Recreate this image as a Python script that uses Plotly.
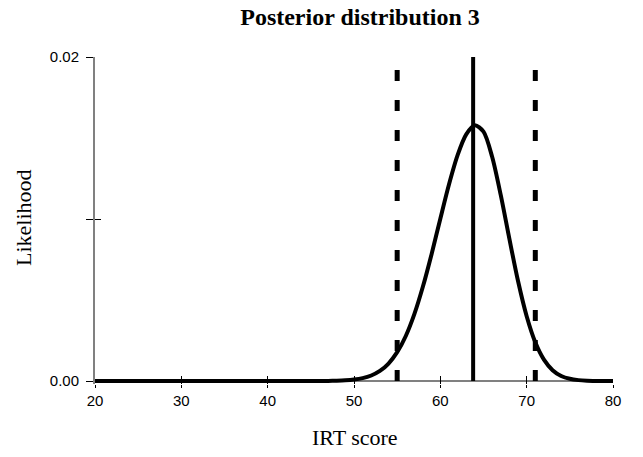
import plotly.graph_objects as go

# IRT score grid and posterior likelihood
irt_score = list(range(20, 81))
likelihood = [0.0] * 26 + [
    0.000003, 0.000007, 0.000018, 0.00004, 0.000087,      # 46-50
    0.000176, 0.00034, 0.00062, 0.00108, 0.00178,         # 51-55
    0.00278, 0.00414, 0.00586, 0.00786, 0.01002,          # 56-60
    0.01213, 0.01394, 0.01522, 0.01578, 0.01539,          # 61-65
    0.01384, 0.01147, 0.00877, 0.00617, 0.0040,           # 66-70
    0.00239, 0.00132, 0.00067, 0.00031, 0.000135,         # 71-75
    0.000054, 0.00002, 0.000007, 0.0, 0.0,                # 76-80
]

estimate = 63.8
interval = [55, 71]
y_span = [0.0, 0.02]

x_ticks = [20, 30, 40, 50, 60, 70, 80]
y_ticks = [0.0, 0.01, 0.02]
y_ticktext = ["0.00", "", "0.02"]

W, H = 643, 457
L, R, T, B = 87, 38, 49, 81
PW, PH = W - L - R, H - T - B

fig = go.Figure()

fig.add_trace(go.Scatter(
    x=irt_score, y=likelihood, mode="lines",
    line=dict(color="black", width=4, shape="spline", smoothing=0.8),
    showlegend=False, hoverinfo="skip"))

fig.add_trace(go.Scatter(
    x=[estimate, estimate], y=y_span, mode="lines",
    line=dict(color="black", width=4),
    showlegend=False, hoverinfo="skip"))

for b in interval:
    fig.add_trace(go.Scatter(
        x=[b, b], y=y_span, mode="lines",
        line=dict(color="black", width=5, dash="11px,19px"),
        showlegend=False, hoverinfo="skip"))

# empty carrier trace so the overlaid tick axes are drawn
fig.add_trace(go.Scatter(x=[irt_score[0]], y=[0.0], mode="lines", xaxis="x2", yaxis="y2",
                         showlegend=False, hoverinfo="skip", line=dict(width=0)))

serif = "Liberation Serif, Times New Roman, serif"
sans = "Liberation Sans, Arial, sans-serif"

yr = [-0.000185, 0.02]

fig.update_layout(
    width=W, height=H,
    margin=dict(l=L, r=R, t=T, b=B, autoexpand=False),
    paper_bgcolor="white", plot_bgcolor="white",
    title=dict(text="<b>Posterior distribution 3</b>", x=352/W, xref="container",
               xanchor="center", y=1.0, yanchor="top",
               font=dict(family=serif, size=24, color="black")),
    xaxis=dict(range=[20, 80], tickvals=x_ticks, ticks="outside", ticklen=3,
               tickcolor="black", tickwidth=1, showline=False, showgrid=False,
               zeroline=False, automargin=False,
               tickfont=dict(family=sans, size=15, color="black")),
    xaxis2=dict(range=[20, 80], tickvals=x_ticks, ticks="inside", ticklen=8,
                tickcolor="black", tickwidth=1, showline=False, showgrid=False,
                zeroline=False, showticklabels=False, overlaying="x", anchor="y2",
                side="bottom", automargin=False),
    yaxis=dict(range=yr, tickvals=y_ticks, ticktext=y_ticktext,
               ticks="outside", ticklen=7, tickcolor="black", tickwidth=1,
               showline=True, linecolor="#808080", linewidth=2, showgrid=False,
               zeroline=True, zerolinecolor="#808080", zerolinewidth=2,
               ticklabelstandoff=4, automargin=False,
               tickfont=dict(family=sans, size=15, color="black")),
    yaxis2=dict(range=yr, tickvals=y_ticks, ticks="inside", ticklen=6,
                tickcolor="black", tickwidth=1, showline=False, showgrid=False,
                zeroline=False, showticklabels=False, overlaying="y", anchor="x2",
                side="left", automargin=False),
    annotations=[
        dict(text="Likelihood", xref="paper", yref="paper",
             x=(15 - L) / PW, y=(T + PH - 210) / PH, textangle=-90,
             showarrow=False, xanchor="center", yanchor="middle",
             font=dict(family=serif, size=22, color="black")),
        dict(text="IRT score", xref="paper", yref="paper",
             x=(347 - L) / PW, y=(T + PH - 429) / PH,
             showarrow=False, xanchor="center", yanchor="middle",
             font=dict(family=serif, size=22, color="black")),
    ],
)

fig.write_html("out.html")
